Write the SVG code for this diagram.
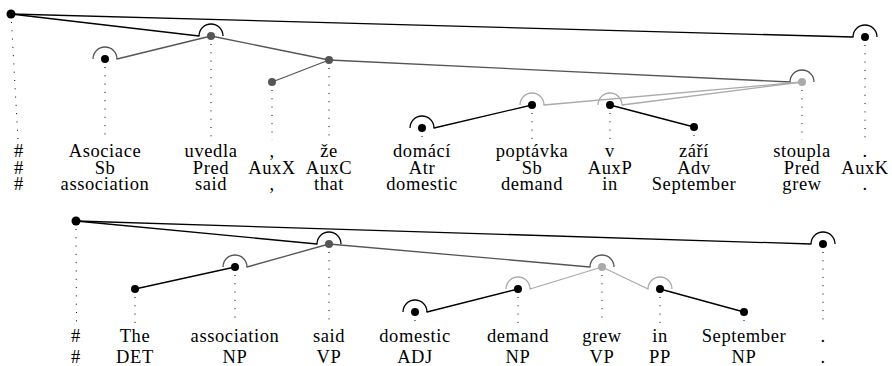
<svg xmlns="http://www.w3.org/2000/svg" width="892" height="366" viewBox="0 0 892 366">
<style>
text{font-family:"Liberation Serif",serif;font-size:18.5px;letter-spacing:0.6px;text-anchor:middle;fill:#000}
.stem{stroke:#000;stroke-width:1;stroke-dasharray:1 7.3;fill:none}
.k{fill:#000}.g{fill:#555}.l{fill:#aaa}
.arc{fill:none;stroke-width:1.3}
.ck{stroke:#000}.cg{stroke:#555}.cl{stroke:#aaa}
.e{fill:none;stroke-width:1.3;stroke-linecap:round}
</style>
<rect width="892" height="366" fill="#fff"/>
<g id="connectors">
<line class="e ck" x1="11" y1="14" x2="853" y2="37"/>
<line class="e ck" x1="11" y1="14" x2="199" y2="36"/>
<line class="e cg" x1="211" y1="36" x2="117" y2="59"/>
<line class="e cg" x1="211" y1="36" x2="329" y2="60"/>
<line class="e cg" x1="272" y1="82" x2="329" y2="60"/>
<line class="e cg" x1="329" y1="60" x2="790" y2="82"/>
<line class="e cl" x1="802" y1="82" x2="544" y2="105"/>
<line class="e cl" x1="802" y1="82" x2="622" y2="105"/>
<line class="e ck" x1="532" y1="105" x2="434" y2="128"/>
<line class="e ck" x1="610" y1="105" x2="694" y2="127"/>
<line class="e ck" x1="76" y1="221" x2="811" y2="244"/>
<line class="e ck" x1="76" y1="221" x2="317" y2="244"/>
<line class="e cg" x1="329" y1="244" x2="247" y2="267"/>
<line class="e cg" x1="329" y1="244" x2="590" y2="267"/>
<line class="e ck" x1="235" y1="267" x2="135" y2="289"/>
<line class="e cl" x1="602" y1="267" x2="530" y2="289"/>
<line class="e cl" x1="602" y1="267" x2="648" y2="289"/>
<line class="e ck" x1="518" y1="289" x2="427" y2="312"/>
<line class="e ck" x1="660" y1="289" x2="744" y2="312"/>
</g>
<g id="t-root">
<line class="stem" x1="11.5" y1="22" x2="18" y2="140"/>
<circle class="k" cx="11" cy="14" r="4.5"/>
<text x="19" y="157">#</text><text x="19" y="173.5">#</text><text x="19" y="190">#</text>
</g>
<g id="t-asociace">
<line class="stem" x1="105" y1="67" x2="105" y2="140"/>
<path class="arc cg" d="M93 59A12 12 0 0 1 117 59"/>
<circle class="k" cx="105" cy="59" r="4"/>
<text x="105" y="157">Asociace</text><text x="105" y="173.5">Sb</text><text x="105" y="190">association</text>
</g>
<g id="t-uvedla">
<line class="stem" x1="211" y1="44" x2="211" y2="140"/>
<path class="arc ck" d="M199 36A12 12 0 0 1 223 36"/>
<circle class="g" cx="211" cy="36" r="4"/>
<text x="211" y="157">uvedla</text><text x="211" y="173.5">Pred</text><text x="211" y="190">said</text>
</g>
<g id="t-comma">
<line class="stem" x1="272" y1="90" x2="272" y2="140"/>
<circle class="g" cx="272" cy="82" r="4"/>
<text x="272" y="157">,</text><text x="272" y="173.5">AuxX</text><text x="272" y="190">,</text>
</g>
<g id="t-ze">
<line class="stem" x1="329" y1="68" x2="329" y2="140"/>
<circle class="g" cx="329" cy="60" r="4"/>
<text x="329" y="157">že</text><text x="329" y="173.5">AuxC</text><text x="329" y="190">that</text>
</g>
<g id="t-domaci">
<line class="stem" x1="422" y1="136" x2="422" y2="140"/>
<path class="arc ck" d="M410 128A12 12 0 0 1 434 128"/>
<circle class="k" cx="422" cy="128" r="4"/>
<text x="422" y="157">domácí</text><text x="422" y="173.5">Atr</text><text x="422" y="190">domestic</text>
</g>
<g id="t-poptavka">
<line class="stem" x1="532" y1="113" x2="532" y2="140"/>
<path class="arc cl" d="M520 105A12 12 0 0 1 544 105"/>
<circle class="k" cx="532" cy="105" r="4"/>
<text x="532" y="157">poptávka</text><text x="532" y="173.5">Sb</text><text x="532" y="190">demand</text>
</g>
<g id="t-v">
<line class="stem" x1="610" y1="113" x2="610" y2="140"/>
<path class="arc cl" d="M598 105A12 12 0 0 1 622 105"/>
<circle class="k" cx="610" cy="105" r="4"/>
<text x="610" y="157">v</text><text x="610" y="173.5">AuxP</text><text x="610" y="190">in</text>
</g>
<g id="t-zari">
<line class="stem" x1="694" y1="135" x2="694" y2="140"/>
<circle class="k" cx="694" cy="127" r="4"/>
<text x="694" y="157">září</text><text x="694" y="173.5">Adv</text><text x="694" y="190">September</text>
</g>
<g id="t-stoupla">
<line class="stem" x1="802" y1="90" x2="802" y2="140"/>
<path class="arc cg" d="M790 82A12 12 0 0 1 814 82"/>
<circle class="l" cx="802" cy="82" r="4"/>
<text x="802" y="157">stoupla</text><text x="802" y="173.5">Pred</text><text x="802" y="190">grew</text>
</g>
<g id="t-period">
<line class="stem" x1="865" y1="45" x2="865" y2="140"/>
<path class="arc ck" d="M853 37A12 12 0 0 1 877 37"/>
<circle class="k" cx="865" cy="37" r="4"/>
<text x="865" y="157">.</text><text x="865" y="173.5">AuxK</text><text x="865" y="190">.</text>
</g>
<g id="b-root">
<line class="stem" x1="76" y1="229" x2="76.5" y2="324"/>
<circle class="k" cx="76" cy="221" r="4.5"/>
<text x="76" y="341.5">#</text><text x="76" y="363">#</text>
</g>
<g id="b-the">
<line class="stem" x1="135" y1="297" x2="135" y2="324"/>
<circle class="k" cx="135" cy="289" r="4"/>
<text x="135" y="341.5">The</text><text x="135" y="363">DET</text>
</g>
<g id="b-association">
<line class="stem" x1="235" y1="275" x2="235" y2="324"/>
<path class="arc cg" d="M223 267A12 12 0 0 1 247 267"/>
<circle class="k" cx="235" cy="267" r="4"/>
<text x="235" y="341.5">association</text><text x="235" y="363">NP</text>
</g>
<g id="b-said">
<line class="stem" x1="329" y1="252" x2="329" y2="324"/>
<path class="arc ck" d="M317 244A12 12 0 0 1 341 244"/>
<circle class="g" cx="329" cy="244" r="4"/>
<text x="329" y="341.5">said</text><text x="329" y="363">VP</text>
</g>
<g id="b-domestic">
<line class="stem" x1="415" y1="320" x2="415" y2="324"/>
<path class="arc ck" d="M403 312A12 12 0 0 1 427 312"/>
<circle class="k" cx="415" cy="312" r="4"/>
<text x="415" y="341.5">domestic</text><text x="415" y="363">ADJ</text>
</g>
<g id="b-demand">
<line class="stem" x1="518" y1="297" x2="518" y2="324"/>
<path class="arc cl" d="M506 289A12 12 0 0 1 530 289"/>
<circle class="k" cx="518" cy="289" r="4"/>
<text x="518" y="341.5">demand</text><text x="518" y="363">NP</text>
</g>
<g id="b-grew">
<line class="stem" x1="602" y1="275" x2="602" y2="324"/>
<path class="arc cg" d="M590 267A12 12 0 0 1 614 267"/>
<circle class="l" cx="602" cy="267" r="4"/>
<text x="602" y="341.5">grew</text><text x="602" y="363">VP</text>
</g>
<g id="b-in">
<line class="stem" x1="660" y1="297" x2="660" y2="324"/>
<path class="arc cl" d="M648 289A12 12 0 0 1 672 289"/>
<circle class="k" cx="660" cy="289" r="4"/>
<text x="660" y="341.5">in</text><text x="660" y="363">PP</text>
</g>
<g id="b-september">
<line class="stem" x1="744" y1="320" x2="744" y2="324"/>
<circle class="k" cx="744" cy="312" r="4"/>
<text x="744" y="341.5">September</text><text x="744" y="363">NP</text>
</g>
<g id="b-period">
<line class="stem" x1="823" y1="252" x2="823" y2="324"/>
<path class="arc ck" d="M811 244A12 12 0 0 1 835 244"/>
<circle class="k" cx="823" cy="244" r="4"/>
<text x="823" y="341.5">.</text><text x="823" y="363">.</text>
</g>
</svg>
